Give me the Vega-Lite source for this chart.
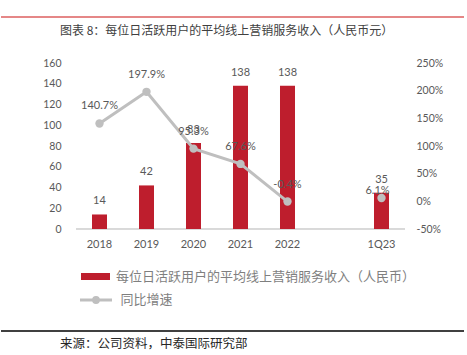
{
  "$schema": "https://vega.github.io/schema/vega-lite/v6.json",
  "padding": {"left": 0, "top": 16, "right": 0, "bottom": 0},
  "background": "white",
  "spacing": 21,
  "datasets": {
    "main": [
      {"cat": "2018", "val": 14, "growth": 1.407},
      {"cat": "2019", "val": 42, "growth": 1.979},
      {"cat": "2020", "val": 83, "growth": 0.953},
      {"cat": "2021", "val": 138, "growth": 0.676},
      {"cat": "2022", "val": 138, "growth": -0.004},
      {"cat": "1Q23", "val": 35, "growth": 0.061}
    ]
  },
  "config": {
    "view": {"stroke": null},
    "font": "Lato",
    "locale": {"number": {"decimal": ".", "thousands": ",", "grouping": [3], "currency": ["$", ""], "minus": "-"}}
  },
  "resolve": {
    "scale": {"fill": "independent", "stroke": "independent"},
    "legend": {"fill": "independent", "stroke": "independent"}
  },
  "vconcat": [
    {
      "width": 463,
      "height": 1,
      "data": {"values": [{}]},
      "title": {
        "text": "图表 8：每位日活跃用户的平均线上营销服务收入（人民币元）",
        "orient": "bottom",
        "anchor": "start",
        "align": "left",
        "frame": "group",
        "dx": 59,
        "offset": 8,
        "font": "Noto Sans CJK SC",
        "fontSize": 12,
        "fontWeight": "normal",
        "color": "#404040"
      },
      "mark": {"type": "rule", "color": "#cc1111", "strokeWidth": 1.2},
      "encoding": {
        "y": {"datum": 0, "type": "quantitative", "scale": {"domain": [0, 1]}, "axis": null}
      }
    },
    {
      "width": 404,
      "height": 166,
      "data": {"name": "main"},
      "encoding": {
        "x": {
          "field": "cat",
          "type": "nominal",
          "sort": null,
          "scale": {
            "domain": ["2018", "2019", "2020", "2021", "2022", " ", "1Q23"],
            "paddingInner": 0,
            "paddingOuter": 0.79787,
            "align": 1,
            "round": false
          },
          "axis": {
            "title": null,
            "labelAngle": 0,
            "ticks": false,
            "tickSize": 0,
            "domain": false,
            "labelColor": "#595959",
            "labelFontSize": 11,
            "labelPadding": 9,
            "labelFont": "Lato"
          }
        }
      },
      "layer": [
        {
          "encoding": {
            "y": {
              "field": "val",
              "type": "quantitative",
              "scale": {"domain": [0, 160]},
              "axis": {
                "title": null,
                "values": [0, 20, 40, 60, 80, 100, 120, 140, 160],
                "domain": false,
                "ticks": false,
                "tickSize": 0,
                "grid": false,
                "offset": -75,
                "labelColor": "#595959",
                "labelFontSize": 10.5,
                "labelPadding": 15
              }
            }
          },
          "layer": [
            {
              "mark": {"type": "rule", "color": "#d9d9d9", "strokeWidth": 1},
              "encoding": {
                "x": {"datum": "2018", "bandPosition": 0},
                "x2": {"datum": "1Q23", "bandPosition": 1},
                "y": {"datum": 0}
              }
            },
            {
              "mark": {"type": "bar", "size": 15},
              "encoding": {
                "fill": {
                  "datum": "每位日活跃用户的平均线上营销服务收入（人民币）",
                  "scale": {"range": ["#be1e2d"]},
                  "legend": {
                    "title": null,
                    "orient": "none",
                    "legendX": 80,
                    "legendY": 199,
                    "padding": 0,
                    "symbolType": "M-1,-0.24H1V0.24H-1Z",
                    "symbolSize": 841,
                    "symbolStrokeWidth": 0,
                    "labelFont": "Noto Sans CJK SC",
                    "labelFontSize": 13,
                    "labelColor": "#7f7f7f",
                    "labelOffset": 6,
                    "labelLimit": 400
                  }
                }
              }
            },
            {
              "mark": {"type": "text", "dy": -10, "baseline": "alphabetic", "fontSize": 11, "color": "#595959"},
              "encoding": {"text": {"field": "val", "type": "quantitative"}}
            }
          ]
        },
        {
          "encoding": {
            "y": {
              "field": "growth",
              "type": "quantitative",
              "scale": {"domain": [-0.5, 2.5]},
              "axis": {
                "orient": "right",
                "title": null,
                "values": [-0.5, 0, 0.5, 1, 1.5, 2, 2.5],
                "format": ".0%",
                "domain": false,
                "ticks": false,
                "tickSize": 0,
                "grid": false,
                "labelColor": "#595959",
                "labelFontSize": 10.5,
                "labelPadding": 11
              }
            }
          },
          "layer": [
            {
              "transform": [{"filter": "datum.cat != '1Q23'"}],
              "mark": {"type": "line", "strokeWidth": 3},
              "encoding": {
                "stroke": {
                  "datum": "同比增速",
                  "scale": {"range": ["#bfbfbf"]},
                  "legend": {
                    "title": null,
                    "orient": "none",
                    "legendX": 85.5,
                    "legendY": 227.5,
                    "padding": 0,
                    "symbolType": "M-2,0H2M0.3,0A0.3,0.3,0,1,1,-0.3,0A0.3,0.3,0,1,1,0.3,0Z",
                    "symbolSize": 256,
                    "symbolStrokeWidth": 3,
                    "symbolFillColor": "#bfbfbf",
                    "symbolStrokeColor": "#bfbfbf",
                    "labelFont": "Noto Sans CJK SC",
                    "labelFontSize": 13,
                    "labelColor": "#7f7f7f",
                    "labelOffset": 15,
                    "encode": {"symbols": {"update": {"fill": {"value": "#bfbfbf"}}}}
                  }
                }
              }
            },
            {
              "mark": {"type": "point", "filled": true, "size": 70, "color": "#bfbfbf", "opacity": 1}
            },
            {
              "transform": [{"filter": "datum.cat != '1Q23'"}],
              "mark": {"type": "text", "dy": -14, "baseline": "alphabetic", "fontSize": 11, "color": "#595959"},
              "encoding": {"text": {"field": "growth", "type": "quantitative", "format": ".1%"}}
            },
            {
              "transform": [{"filter": "datum.cat == '1Q23'"}],
              "mark": {"type": "text", "dy": -4, "dx": -4, "baseline": "alphabetic", "fontSize": 11, "color": "#595959"},
              "encoding": {"text": {"field": "growth", "type": "quantitative", "format": ".1%"}}
            }
          ]
        }
      ],
      "resolve": {"scale": {"y": "independent"}}
    },
    {
      "width": 463,
      "height": 1,
      "data": {"values": [{}]},
      "title": {
        "text": "来源：公司资料，中泰国际研究部",
        "orient": "bottom",
        "anchor": "start",
        "align": "left",
        "frame": "group",
        "dx": 59,
        "offset": 6,
        "font": "Noto Sans CJK SC",
        "fontSize": 12.5,
        "fontWeight": "normal",
        "color": "#262626"
      },
      "mark": {"type": "rule", "color": "#000000", "strokeWidth": 1.3},
      "encoding": {
        "y": {"datum": 0, "type": "quantitative", "scale": {"domain": [0, 1]}, "axis": null}
      }
    }
  ]
}
